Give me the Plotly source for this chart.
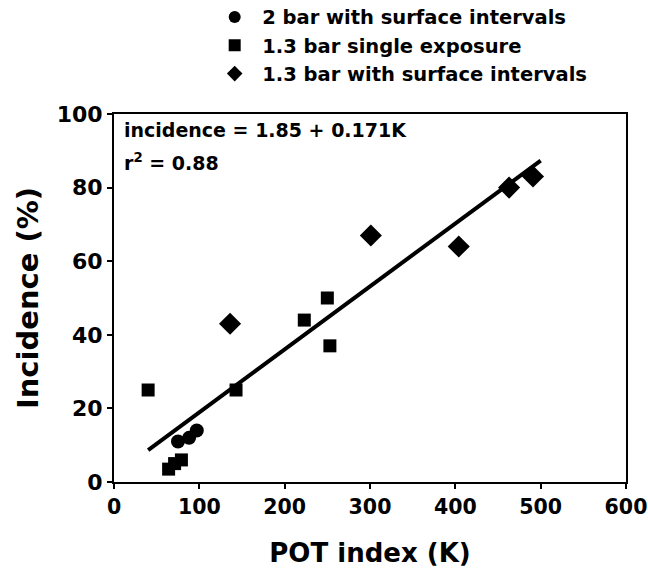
import plotly.graph_objects as go

# Data
circ_x = [75, 88, 97]
circ_y = [11, 12, 14]
sq_x = [40, 64, 71, 79, 143, 223, 250, 253]
sq_y = [25, 3.5, 5, 6, 25, 44, 50, 37]
dia_x = [136, 301, 404, 463, 491]
dia_y = [43, 67, 64, 80, 83]
fit_intercept = 1.85
fit_slope = 0.171
fit_x = [40, 500]
fit_y = [fit_intercept + fit_slope * v for v in fit_x]

FONT = "DejaVu Sans"

fig = go.Figure()
fig.add_trace(go.Scatter(x=circ_x, y=circ_y, mode="markers", name="2 bar with surface intervals",
                         marker=dict(symbol="circle", size=14, color="black")))
fig.add_trace(go.Scatter(x=sq_x, y=sq_y, mode="markers", name="1.3 bar single exposure",
                         marker=dict(symbol="square", size=13, color="black")))
fig.add_trace(go.Scatter(x=dia_x, y=dia_y, mode="markers", name="1.3 bar with surface intervals",
                         marker=dict(symbol="diamond", size=17, color="black")))
fig.add_trace(go.Scatter(x=fit_x, y=fit_y, mode="lines", showlegend=False,
                         line=dict(color="black", width=4)))

fig.update_layout(
    width=648, height=577,
    margin=dict(l=114, r=22, t=114, b=95, autoexpand=False),
    paper_bgcolor="white", plot_bgcolor="white",
    font=dict(family=FONT, size=18, color="black"),
    legend=dict(x=0.182, y=1.316, xanchor="left", yanchor="top",
                font=dict(family=FONT, size=19.5, color="black", weight="bold"),
                bgcolor="rgba(0,0,0,0)", tracegroupgap=0, itemsizing="constant", itemwidth=45),
    annotations=[
        dict(x=0.015, y=0.956, xref="paper", yref="paper", xanchor="left", yanchor="middle",
             align="left", showarrow=False, text="incidence = 1.85 + 0.171K",
             font=dict(family=FONT, size=19, color="black", weight="bold")),
        dict(x=0.015, y=0.869, xref="paper", yref="paper", xanchor="left", yanchor="middle",
             align="left", showarrow=False, text="r<sup>2</sup> = 0.88",
             font=dict(family=FONT, size=19, color="black", weight="bold")),
    ],
)
fig.update_xaxes(range=[0, 600], tickvals=[0, 100, 200, 300, 400, 500, 600], automargin=False,
                 ticklabeloverflow="allow",
                 showgrid=False, zeroline=False, showline=True, linecolor="black", linewidth=2,
                 mirror=True, ticks="outside", ticklen=5, tickwidth=2, tickcolor="black",
                 tickfont=dict(family=FONT, size=20.5, weight="bold"),
                 title=dict(text="POT index (K)", font=dict(family=FONT, size=26, weight="bold"), standoff=26))
fig.update_yaxes(range=[0, 100], tickvals=[0, 20, 40, 60, 80, 100], automargin=False,
                 ticklabeloverflow="allow",
                 showgrid=False, zeroline=False, showline=True, linecolor="black", linewidth=2,
                 mirror=True, ticks="outside", ticklen=5, tickwidth=2, tickcolor="black",
                 tickfont=dict(family=FONT, size=22, weight="bold"),
                 title=dict(text="Incidence (%)", font=dict(family=FONT, size=29, weight="bold"), standoff=10))

fig.write_html("out.html", config={"displayModeBar": False},
               post_script="document.body.style.margin='0';")
